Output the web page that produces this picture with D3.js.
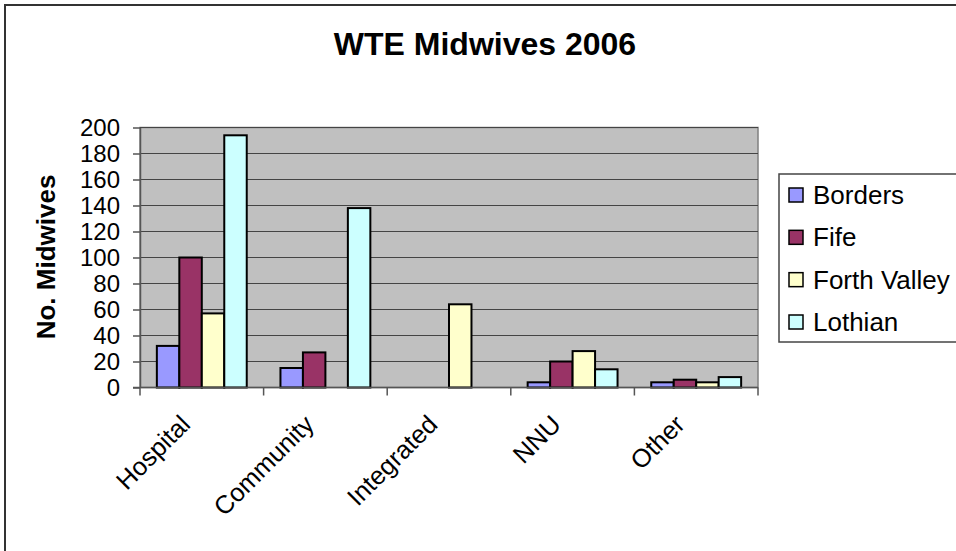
<!DOCTYPE html>
<html>
<head>
<meta charset="utf-8">
<script src="https://cdn.jsdelivr.net/npm/d3@7"></script>
<style>
  html, body { margin: 0; padding: 0; background: #fff; }
  svg { display: block; font-family: "Liberation Sans", Arial, sans-serif; }
</style>
</head>
<body>
<svg id="chart" width="956" height="551"></svg>
<script>
const categories = ["Hospital", "Community", "Integrated", "NNU", "Other"];
const seriesNames = ["Borders", "Fife", "Forth Valley", "Lothian"];
const borders = [32, 15, 0, 4, 4];
const fife = [100, 27, 0, 20, 6];
const forthValley = [57, 0, 64, 28, 4];
const lothian = [194, 138, 0, 14, 8];
const yTicks = [0, 20, 40, 60, 80, 100, 120, 140, 160, 180, 200];
const colors = ["#9999FF", "#993366", "#FFFFCC", "#CCFFFF"];

const seriesValues = [borders, fife, forthValley, lothian];
const FONT = "'Liberation Sans', Arial, sans-serif";

const svg = d3.select("#chart");

// outer frame (right and bottom edges fall outside the view)
svg.append("rect")
  .attr("x", 5).attr("y", 5).attr("width", 1000).attr("height", 600)
  .attr("fill", "#fff").attr("stroke", "#333").attr("stroke-width", 2);

const plot = { left: 140, right: 758, top: 127.5, bottom: 387.5 };

const x = d3.scaleBand().domain(categories).range([plot.left, plot.right]).paddingInner(0).paddingOuter(0);
const xs = d3.scaleBand().domain(seriesNames).range([0, x.bandwidth()]).paddingInner(0).paddingOuter(0.75);
const y = d3.scaleLinear().domain([0, 200]).range([plot.bottom, plot.top]);

// plot background
svg.append("rect")
  .attr("x", plot.left).attr("y", plot.top)
  .attr("width", plot.right - plot.left).attr("height", plot.bottom - plot.top)
  .attr("fill", "#C0C0C0").attr("stroke", "#808080").attr("stroke-width", 1.5);

// gridlines
svg.append("g").selectAll("line").data(yTicks.filter(d => d > 0)).join("line")
  .attr("x1", plot.left).attr("x2", plot.right)
  .attr("y1", d => y(d)).attr("y2", d => y(d))
  .attr("stroke", "#444").attr("stroke-width", 1.2);

// bars
const groups = svg.append("g").selectAll("g").data(seriesNames).join("g")
  .attr("fill", (d, i) => colors[i]);
groups.selectAll("rect")
  .data((s, si) => categories.map((c, ci) => ({ s, c, v: seriesValues[si][ci] })).filter(d => d.v > 0))
  .join("rect")
  .attr("x", d => x(d.c) + xs(d.s))
  .attr("width", xs.bandwidth())
  .attr("y", d => y(d.v))
  .attr("height", d => y(0) - y(d.v))
  .attr("stroke", "#000").attr("stroke-width", 2);

// y axis
const yAxis = svg.append("g").attr("transform", `translate(${plot.left},0)`)
  .call(d3.axisLeft(y).tickValues(yTicks).tickSize(7).tickPadding(13).tickSizeOuter(0));
yAxis.select(".domain").attr("stroke", "#555").attr("stroke-width", 1.5);
yAxis.selectAll(".tick line").attr("stroke", "#555").attr("stroke-width", 1.5);
yAxis.selectAll(".tick text").attr("font-size", 24).attr("fill", "#000")
  .attr("font-family", FONT);

// x axis line and boundary ticks
const boundaries = categories.map(c => x(c)).concat([plot.right]);
svg.append("line")
  .attr("x1", plot.left - 7).attr("x2", plot.right)
  .attr("y1", plot.bottom).attr("y2", plot.bottom)
  .attr("stroke", "#555").attr("stroke-width", 1.5);
svg.append("g").selectAll("line").data(boundaries).join("line")
  .attr("x1", d => d).attr("x2", d => d)
  .attr("y1", plot.bottom).attr("y2", plot.bottom + 8)
  .attr("stroke", "#555").attr("stroke-width", 1.5);

// x labels
svg.append("g").selectAll("text").data(categories).join("text")
  .attr("transform", d => `translate(${x(d) + x.bandwidth() / 2 - 10},426) rotate(-45)`)
  .attr("text-anchor", "end")
  .attr("font-size", 25.5)
  .attr("font-family", FONT)
  .attr("fill", "#000")
  .text(d => d);

// y title
svg.append("text")
  .attr("transform", "translate(55,257) rotate(-90)")
  .attr("text-anchor", "middle")
  .attr("font-size", 26).attr("font-weight", "bold")
  .attr("font-family", FONT)
  .text("No. Midwives");

// title
svg.append("text")
  .attr("x", 485).attr("y", 55)
  .attr("text-anchor", "middle")
  .attr("font-size", 32).attr("font-weight", "bold")
  .attr("font-family", FONT)
  .text("WTE Midwives 2006");

// legend
const legend = svg.append("g");
legend.append("rect")
  .attr("x", 779).attr("y", 174).attr("width", 300).attr("height", 168)
  .attr("fill", "#fff").attr("stroke", "#444").attr("stroke-width", 1.5);
const legendY = d3.scalePoint().domain(seriesNames).range([195, 322]);
const items = legend.selectAll("g.item").data(seriesNames).join("g").attr("class", "item")
  .attr("transform", d => `translate(789,${legendY(d)})`);
items.append("rect")
  .attr("x", 0).attr("y", -7).attr("width", 14).attr("height", 14)
  .attr("fill", (d, i) => colors[i]).attr("stroke", "#000").attr("stroke-width", 1.5);
items.append("text")
  .attr("x", 24).attr("y", 0).attr("dy", "0.35em")
  .attr("font-size", 26).attr("font-family", FONT).attr("fill", "#000")
  .text(d => d);
</script>
</body>
</html>
